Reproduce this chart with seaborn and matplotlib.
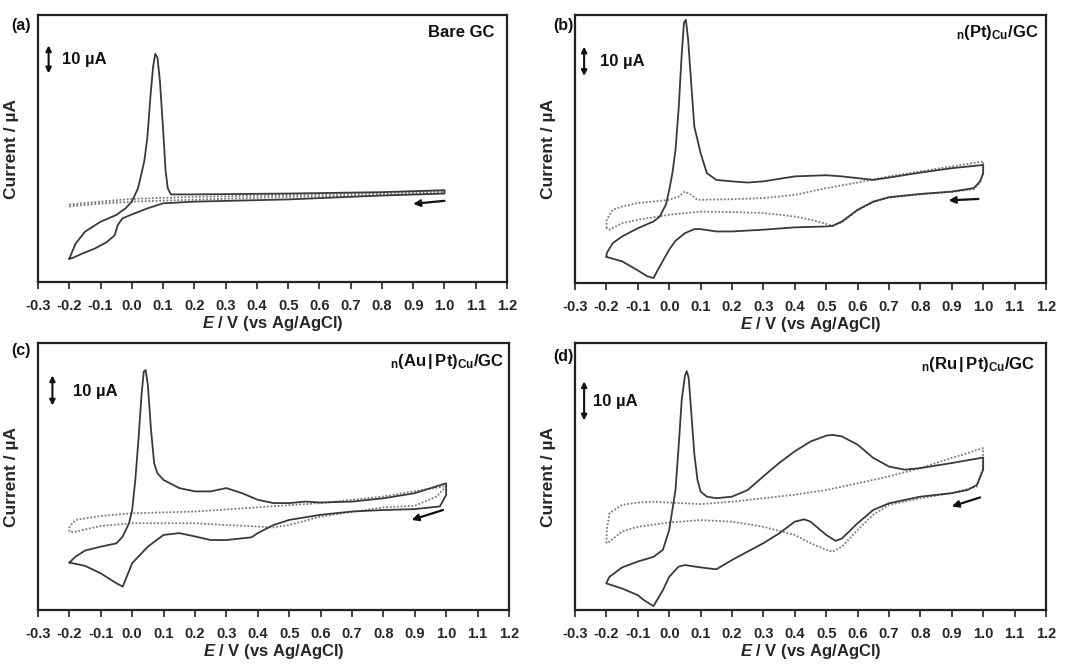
import matplotlib
matplotlib.use("Agg")
import matplotlib.pyplot as plt
import seaborn as sns
import pandas as pd

# ---------------- data (E in V, I in uA) ----------------
a_solid_E = [-0.2, -0.18, -0.15, -0.1, -0.05, -0.02, 0.0, 0.02, 0.04, 0.05, 0.06, 0.068, 0.075, 0.082, 0.09,
             0.1, 0.108, 0.115, 0.125, 0.2, 0.5, 0.8, 1.0,
             1.0, 0.8, 0.5, 0.2, 0.1, 0.05, 0.0, -0.03, -0.045, -0.055, -0.08, -0.12, -0.16, -0.19, -0.2]
a_solid_I = [-21.7, -16.3, -12.0, -8.4, -6.0, -3.6, -1.2, 3.6, 13.3, 22.0, 37.0, 47.0, 51.8, 50.5, 42.0,
             25.0, 10.0, 3.6, 1.4, 1.4, 1.7, 2.2, 2.9,
             1.7, 1.0, -0.4, -1.2, -1.8, -3.6, -5.8, -7.2, -9.6, -13.3, -15.7, -18.1, -19.9, -21.4, -21.7]
a_dot_E = [-0.2, -0.1, 0.0, 0.2, 0.5, 0.8, 1.0, 1.0, 0.8, 0.5, 0.2, 0.0, -0.1, -0.2, -0.2]
a_dot_I = [-2.2, -1.2, -0.2, 0.5, 1.2, 1.9, 2.8, 2.2, 1.2, 0.5, -0.5, -1.2, -1.9, -2.9, -2.2]

b_solid_E = [-0.2, -0.199, -0.18, -0.15, -0.1, -0.05, -0.03, -0.01, 0.0, 0.01, 0.02, 0.03, 0.04, 0.047, 0.053,
             0.06, 0.07, 0.08, 0.09, 0.1, 0.12, 0.15, 0.2, 0.25, 0.3, 0.4, 0.5, 0.55, 0.6, 0.65, 0.7, 0.8, 0.9,
             1.0,
             1.0, 0.99, 0.97, 0.9, 0.8, 0.7, 0.65, 0.6, 0.55, 0.52, 0.5, 0.4, 0.3, 0.2, 0.15, 0.1, 0.08,
             0.05, 0.02, 0.0, -0.03, -0.05, -0.07, -0.1, -0.15, -0.2]
b_solid_I = [-19.5, -18.2, -14.8, -12.5, -9.7, -7.4, -5.7, -1.5, 3.4, 9.0, 17.0, 31.0, 50.0, 60.5, 61.5,
             55.0, 39.8, 25.0, 20.5, 15.9, 9.1, 6.8, 6.3, 5.9, 6.3, 8.0, 8.4, 8.0, 7.4, 6.8, 7.6, 9.3, 10.8,
             11.9,
             9.1, 6.3, 4.0, 2.8, 2.0, 0.9, -0.6, -3.4, -7.4, -8.9, -9.1, -9.4, -10.2, -10.8, -10.8, -10.0, -10.0,
             -11.4, -14.0, -17.0, -22.7, -26.7, -26.1, -24.1, -21.0, -19.5]
b_dot_E = [-0.2, -0.199, -0.18, -0.15, -0.1, 0.0, 0.03, 0.05, 0.07, 0.09, 0.2, 0.3, 0.4, 0.5, 0.6, 0.7, 0.8, 0.9, 1.0,
           1.0, 0.99, 0.97, 0.9, 0.8, 0.7, 0.65, 0.6, 0.55, 0.52, 0.5, 0.45, 0.4, 0.3, 0.2, 0.1, 0.0, -0.1,
           -0.15, -0.19, -0.2]
b_dot_I = [-9.7, -6.8, -3.4, -2.3, -1.1, 0.0, 1.1, 2.8, 1.7, 0.0, 0.2, 0.6, 1.7, 4.0, 5.9, 8.0, 9.7, 11.4, 13.1,
           9.1, 5.9, 3.6, 2.7, 1.9, 0.7, -0.8, -3.6, -7.7, -8.9, -8.2, -6.8, -5.7, -4.5, -4.2, -4.0, -5.1, -6.8,
           -8.0, -10.2, -9.7]

c_solid_E = [-0.2, -0.18, -0.15, -0.1, -0.05, -0.03, -0.01, 0.0, 0.01, 0.02, 0.03, 0.037, 0.043, 0.05, 0.06, 0.07,
             0.08, 0.1, 0.15, 0.2, 0.25, 0.3, 0.35, 0.4, 0.45, 0.5, 0.55, 0.6, 0.7, 0.8, 0.9, 1.0,
             1.0, 0.98, 0.9, 0.8, 0.7, 0.6, 0.5, 0.45, 0.4, 0.38, 0.3, 0.25, 0.2, 0.15, 0.1, 0.05, 0.0,
             -0.03, -0.05, -0.1, -0.15, -0.2]
c_solid_I = [-13.1, -11.1, -9.1, -7.8, -6.7, -4.4, 0.0, 4.4, 14.4, 27.8, 43.0, 50.5, 51.0, 46.0, 31.1, 20.0,
             16.7, 14.4, 11.7, 10.6, 10.6, 11.7, 10.0, 7.8, 6.7, 6.7, 7.2, 6.9, 7.2, 8.3, 10.0, 13.3,
             9.4, 5.6, 4.7, 4.4, 3.9, 2.8, 1.1, -0.6, -3.3, -4.7, -5.6, -5.6, -4.4, -3.3, -3.9, -7.8, -13.3,
             -21.1, -20.0, -16.7, -14.2, -13.1]
c_dot_E = [-0.2, -0.199, -0.18, -0.1, 0.0, 0.2, 0.4, 0.6, 0.8, 1.0,
           1.0, 0.97, 0.9, 0.8, 0.6, 0.5, 0.45, 0.4, 0.3, 0.2, 0.0, -0.1, -0.18, -0.2]
c_dot_I = [-2.8, -1.1, 1.1, 2.4, 3.3, 3.9, 5.3, 6.7, 8.9, 12.4,
           12.2, 8.9, 5.8, 5.3, 2.2, -0.6, -1.4, -1.1, -0.6, 0.0, 0.0, -0.9, -2.8, -3.0]

d_solid_E = [-0.2, -0.19, -0.15, -0.1, -0.05, -0.02, 0.0, 0.02, 0.03, 0.04, 0.05, 0.056, 0.062, 0.07, 0.08, 0.09,
             0.1, 0.12, 0.15, 0.2, 0.25, 0.3, 0.35, 0.4, 0.45, 0.5, 0.52, 0.55, 0.6, 0.65, 0.7, 0.75, 0.8, 0.9,
             1.0,
             1.0, 0.98, 0.95, 0.9, 0.8, 0.7, 0.65, 0.6, 0.55, 0.53, 0.5, 0.45, 0.43, 0.4, 0.35, 0.3, 0.2,
             0.15, 0.1, 0.05, 0.03, 0.0, -0.02, -0.05, -0.08, -0.1, -0.15, -0.2]
d_solid_I = [-16.9, -15.4, -13.0, -11.5, -10.3, -8.5, -3.4, 6.8, 17.9, 30.0, 36.0, 37.2, 35.5, 27.0, 16.0, 9.4,
             6.4, 5.1, 4.7, 5.1, 6.8, 10.3, 13.7, 16.7, 19.2, 20.7, 20.9, 20.5, 18.4, 15.0, 12.8, 12.0, 12.4, 13.7,
             15.1,
             12.0, 8.1, 6.8, 6.0, 5.1, 3.4, 1.7, -1.7, -5.6, -6.2, -4.7, -1.3, -0.7, -1.3, -4.3, -6.8, -11.1,
             -13.5, -13.0, -12.4, -12.8, -15.4, -18.8, -22.9, -21.4, -20.1, -18.4, -17.1]
d_dot_E = [-0.2, -0.199, -0.19, -0.15, -0.1, -0.05, 0.0, 0.1, 0.2, 0.3, 0.4, 0.5, 0.6, 0.7, 0.8, 0.9, 1.0,
           1.0, 0.998, 0.98, 0.9, 0.8, 0.7, 0.65, 0.6, 0.55, 0.52, 0.5, 0.45, 0.4, 0.3, 0.2, 0.1, 0.0, -0.1,
           -0.15, -0.19, -0.2]
d_dot_I = [-6.8, -3.4, 0.9, 3.0, 3.6, 3.8, 3.6, 3.2, 3.8, 4.7, 5.6, 6.8, 8.5, 10.3, 12.4, 15.0, 17.5,
           17.1, 12.0, 7.7, 6.0, 4.7, 3.0, 0.5, -3.4, -7.7, -9.0, -8.5, -6.8, -4.7, -2.6, -1.3, -0.9, -1.5, -2.6,
           -3.8, -6.4, -6.8]

panel_letters = ["(a)", "(b)", "(c)", "(d)"]
panel_names = ["Bare GC", r"$_{\rm n}$(Pt)$_{\rm Cu}$/GC",
               r"$_{\rm n}$(Au$\,|\,$Pt)$_{\rm Cu}$/GC", r"$_{\rm n}$(Ru$\,|\,$Pt)$_{\rm Cu}$/GC"]
x_ticks = [-0.3, -0.2, -0.1, 0.0, 0.1, 0.2, 0.3, 0.4, 0.5, 0.6, 0.7, 0.8, 0.9, 1.0, 1.1, 1.2]
y_limits = [(-30.0, 65.7), (-28.4, 63.1), (-28.9, 60.0), (-23.9, 44.4)]
scale_bar = [(-0.266, 44.8), (-0.271, 42.3), (-0.254, 39.2), (-0.271, 24.6)]  # x, bottom of 10 uA bar
scale_text = [(-0.222, 49.6), (-0.222, 47.2), (-0.19, 44.0), (-0.243, 29.4)]
sweep_arrow = [((1.0, -0.9), (0.9, -2.0)), ((0.985, 0.3), (0.89, -0.2)),
               ((0.99, 4.4), (0.89, 1.1)), ((0.99, 4.9), (0.9, 2.6))]

solid = [(a_solid_E, a_solid_I), (b_solid_E, b_solid_I), (c_solid_E, c_solid_I), (d_solid_E, d_solid_I)]
dotted = [(a_dot_E, a_dot_I), (b_dot_E, b_dot_I), (c_dot_E, c_dot_I), (d_dot_E, d_dot_I)]

# ---------------- style ----------------
sns.set_style("white")
plt.rcParams["font.family"] = ["Liberation Sans", "DejaVu Sans"]
plt.rcParams["font.weight"] = "bold"
plt.rcParams["mathtext.fontset"] = "custom"
plt.rcParams["mathtext.rm"] = "Liberation Sans:bold"
plt.rcParams["mathtext.bf"] = "Liberation Sans:bold"
plt.rcParams["mathtext.it"] = "Liberation Sans:bold:italic"

fig = plt.figure(figsize=(10.76, 6.64), dpi=100)
positions = [(0.0353, 0.5753, 0.4359, 0.4021), (0.5344, 0.5738, 0.4377, 0.4036),
             (0.0353, 0.0813, 0.4377, 0.4021), (0.5344, 0.0813, 0.4377, 0.4021)]
letter_pos = [(0.010, 0.962), (0.514, 0.962), (0.010, 0.472), (0.514, 0.463)]
name_pos = [(0.974, 0.935), (0.985, 0.935), (0.99, 0.93), (0.977, 0.92)]

line_col = "#3a3a3a"
dot_col = "#7a7a7a"

for i in range(4):
    ax = fig.add_axes(positions[i])
    sE, sI = solid[i]
    dE, dI = dotted[i]
    df_s = pd.DataFrame({"E": sE, "I": sI})
    df_d = pd.DataFrame({"E": dE, "I": dI})
    sns.lineplot(data=df_d, x="E", y="I", sort=False, estimator=None, ax=ax,
                 color=dot_col, linestyle=(0, (1, 1)), linewidth=1.3)
    sns.lineplot(data=df_s, x="E", y="I", sort=False, estimator=None, ax=ax,
                 color=line_col, linewidth=1.3)
    ax.set_xlim(-0.3, 1.2)
    ax.set_ylim(*y_limits[i])
    ax.set_xticks(x_ticks)
    ax.set_xticklabels([f"{t:.1f}" for t in x_ticks], fontsize=10.5, fontweight="bold")
    ax.set_yticks([])
    ax.tick_params(axis="x", direction="out", length=5, width=1.2, pad=7, bottom=True, color="#222222")
    for sp in ax.spines.values():
        sp.set_color("#222222")
        sp.set_linewidth(1.6)
    ax.set_xlabel(r"$\it{E}$ / V (vs Ag/AgCl)", fontsize=12, fontweight="bold", labelpad=1)
    ax.set_ylabel("Current / µA", fontsize=12.5, fontweight="bold")
    ax.yaxis.set_label_coords(-0.04, 0.5)
    # scale bar 10 uA
    xb, yb = scale_bar[i]
    ax.annotate("", xy=(xb, yb), xytext=(xb, yb + 10),
                arrowprops=dict(arrowstyle="<|-|>", color="#111111", lw=1.5,
                                mutation_scale=8, shrinkA=0, shrinkB=0))
    ax.text(scale_text[i][0], scale_text[i][1], "10 µA", fontsize=12, fontweight="bold",
            ha="left", va="center", color="#111111")
    # sweep direction arrow
    (x0, y0), (x1, y1) = sweep_arrow[i]
    ax.annotate("", xy=(x1, y1), xytext=(x0, y0),
                arrowprops=dict(arrowstyle="-|>", color="#111111", lw=1.6,
                                mutation_scale=10, shrinkA=0, shrinkB=0))
    ax.text(name_pos[i][0], name_pos[i][1], panel_names[i], transform=ax.transAxes,
            ha="right", va="center", fontsize=12, fontweight="bold", color="#111111")
    fig.text(letter_pos[i][0], letter_pos[i][1], panel_letters[i], fontsize=11.5,
             fontweight="bold", ha="left", va="center", color="#111111")

fig.savefig("out.png", dpi=100, facecolor="white")
